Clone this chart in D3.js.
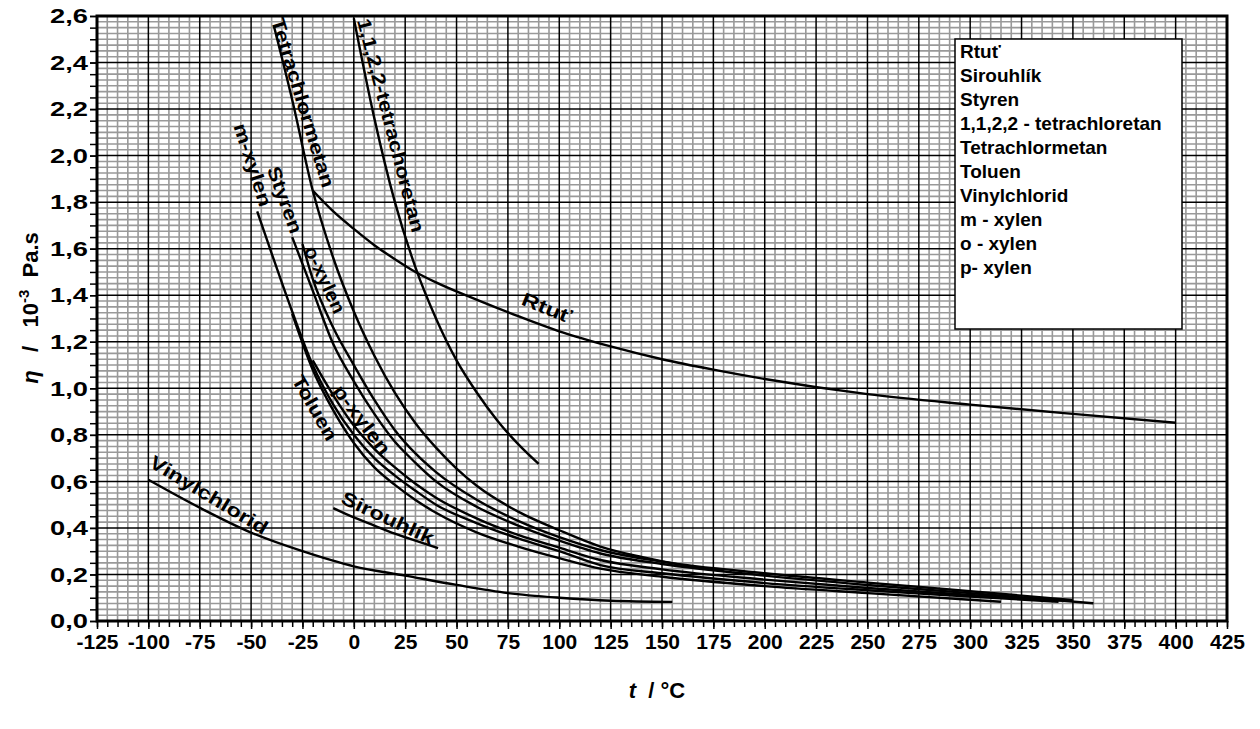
<!DOCTYPE html>
<html>
<head>
<meta charset="utf-8">
<script src="https://cdn.jsdelivr.net/npm/d3@7"></script>
<style>
  body { margin: 0; background: #fff; }
  text { font-family: Arial, "Liberation Sans", sans-serif; font-weight: bold; fill: #000; }
</style>
</head>
<body>
<svg id="chart" width="1260" height="729"></svg>
<script>
// values: [t (°C), viscosity (10^-3 Pa.s)]
const rtut = [[-20,1.85],[-10,1.76],[0,1.685],[10,1.615],[20,1.555],[30,1.50],[40,1.455],[60,1.38],[80,1.31],[100,1.245],[125,1.18],[150,1.125],[175,1.08],[200,1.04],[250,0.975],[300,0.93],[350,0.89],[400,0.852]];
const sirouhlik = [[-10,0.485],[0,0.445],[10,0.41],[20,0.375],[30,0.345],[41,0.313]];
const styren = [[-30,1.65],[-20,1.42],[-10,1.19],[0,1.03],[10,0.89],[20,0.77],[30,0.68],[40,0.60],[60,0.49],[80,0.41],[100,0.345],[120,0.29],[150,0.245],[200,0.195],[250,0.155],[300,0.12],[360,0.076]];
const tetrachloretan = [[0,2.59],[10,2.16],[20,1.80],[30,1.52],[40,1.30],[50,1.12],[60,0.98],[70,0.86],[80,0.76],[90,0.675]];
const tetrachlormetan = [[-39,2.56],[-30,2.24],[-20,1.85],[-10,1.56],[0,1.33],[10,1.14],[20,0.98],[30,0.85],[40,0.745],[50,0.655],[60,0.58],[80,0.47],[100,0.39],[120,0.32],[140,0.275],[160,0.24],[180,0.216]];
const toluen = [[-30,1.32],[-20,1.08],[-10,0.905],[0,0.765],[10,0.66],[20,0.585],[30,0.52],[40,0.465],[60,0.38],[80,0.32],[100,0.27],[120,0.225],[150,0.19],[200,0.15],[250,0.12],[315,0.083]];
const vinylchlorid = [[-100,0.607],[-75,0.487],[-50,0.38],[-25,0.30],[0,0.235],[25,0.195],[50,0.155],[75,0.12],[100,0.10],[125,0.087],[155,0.082]];
const mXylen = [[-47,1.76],[-40,1.58],[-30,1.33],[-20,1.10],[-10,0.93],[0,0.80],[10,0.70],[20,0.625],[30,0.56],[40,0.50],[60,0.42],[80,0.355],[100,0.30],[120,0.24],[150,0.205],[200,0.163],[250,0.132],[300,0.105],[343,0.083]];
const oXylen = [[-25,1.62],[-20,1.47],[-10,1.26],[0,1.10],[10,0.95],[20,0.82],[30,0.72],[40,0.64],[60,0.52],[80,0.43],[100,0.36],[120,0.305],[150,0.255],[200,0.205],[250,0.165],[300,0.128],[350,0.09]];
const pXylen = [[-20,1.12],[-10,0.97],[0,0.84],[10,0.74],[20,0.66],[30,0.59],[40,0.53],[60,0.44],[80,0.37],[100,0.315],[120,0.262],[150,0.222],[200,0.178],[250,0.142],[300,0.112],[345,0.088]];

const legendNames = ["Rtuť", "Sirouhlík", "Styren", "1,1,2,2 - tetrachloretan", "Tetrachlormetan", "Toluen", "Vinylchlorid", "m - xylen", "o - xylen", "p- xylen"];
const seriesList = [rtut, sirouhlik, styren, tetrachloretan, tetrachlormetan, toluen, vinylchlorid, mXylen, oXylen, pXylen];

// in-plot labels: text, anchor point in data units, rotation
const curveLabels = [
  { text: "Tetrachlormetan", t: -24.7, v: 2.228, rot: 73, len: 176 },
  { text: "1,1,2,2-tetrachoretan", t: 18.1, v: 2.13, rot: 75.5, len: 220 },
  { text: "m-xylen", t: -49.1, v: 1.96, rot: 72, len: 86 },
  { text: "Styren", t: -33.5, v: 1.81, rot: 70, len: 70 },
  { text: "o-xylen", t: -14, v: 1.467, rot: 65, len: 72 },
  { text: "Toluen", t: -18.9, v: 0.916, rot: 60, len: 72 },
  { text: "p-xylen", t: 4, v: 0.865, rot: 53, len: 82 },
  { text: "Sirouhlík", t: 16.6, v: 0.443, rot: 25, len: 100 },
  { text: "Vinylchlorid", t: -70.5, v: 0.542, rot: 31, len: 134 },
  { text: "Rtuť", t: 94, v: 1.346, rot: 22, len: 52 }
];

const svg = d3.select("#chart");
const plotL = 97, plotR = 1227, plotT = 16, plotB = 621;

const x = d3.scaleLinear().domain([-125, 425]).range([plotL, plotR]);
const y = d3.scaleLinear().domain([0, 2.6]).range([plotB, plotT]);

const fmtY = (d) => d3.format(".1f")(d).replace(".", ",");

// grid
const grid = svg.append("g");
const xMinor = d3.range(-125, 426, 5).filter((d) => d % 25 !== 0);
const yMinor = d3.range(0, 105, 1).filter((i) => i % 8 !== 0).map((i) => i * 0.025);
const xMajor = d3.range(-125, 426, 25);
const yMajor = d3.range(0, 14, 1).map((i) => i * 0.2);

grid.selectAll(".xm").data(xMinor).join("line")
  .attr("x1", (d) => x(d)).attr("x2", (d) => x(d))
  .attr("y1", plotT).attr("y2", plotB)
  .attr("stroke", "#999").attr("stroke-width", 1.6);
grid.selectAll(".ym").data(yMinor).join("line")
  .attr("x1", plotL).attr("x2", plotR)
  .attr("y1", (d) => y(d)).attr("y2", (d) => y(d))
  .attr("stroke", "#999").attr("stroke-width", 1.6);
grid.selectAll(".xM").data(xMajor).join("line")
  .attr("x1", (d) => x(d)).attr("x2", (d) => x(d))
  .attr("y1", plotT).attr("y2", plotB)
  .attr("stroke", "#000").attr("stroke-width", 1.5);
grid.selectAll(".yM").data(yMajor).join("line")
  .attr("x1", plotL).attr("x2", plotR)
  .attr("y1", (d) => y(d)).attr("y2", (d) => y(d))
  .attr("stroke", "#000").attr("stroke-width", 1.5);

// axes
const xAxisMinor = d3.axisBottom(x).tickValues(d3.range(-125, 426, 5)).tickSize(6).tickFormat("");
const xAxis = d3.axisBottom(x).tickValues(xMajor).tickSize(8).tickPadding(5).tickFormat((d) => String(d));
const yAxisMinor = d3.axisLeft(y).tickValues(d3.range(0, 53, 1).map((i) => i * 0.05)).tickSize(7).tickFormat("");
const yAxis = d3.axisLeft(y).tickValues(yMajor).tickSize(7).tickPadding(9).tickFormat(fmtY);

function styleAxis(g) {
  g.select(".domain").remove();
  g.selectAll(".tick line").attr("stroke", "#000").attr("stroke-width", 1.5);
  g.selectAll(".tick text").style("font-size", "21px").style("font-weight", "bold")
    .style("font-family", "Arial, 'Liberation Sans', sans-serif").attr("fill", "#000");
}
svg.append("g").attr("transform", `translate(0,${plotB})`).call(xAxisMinor).call(styleAxis);
svg.append("g").attr("transform", `translate(0,${plotB})`).call(xAxis).call(styleAxis);
svg.append("g").attr("transform", `translate(${plotL},0)`).call(yAxisMinor).call(styleAxis);
const yg = svg.append("g").attr("transform", `translate(${plotL},0)`).call(yAxis).call(styleAxis);
// the y labels in the picture are drawn wider than plain Arial
yg.selectAll(".tick text")
  .attr("x", null)
  .attr("transform", "translate(-9,0) scale(1.3,1)");

// plot border
svg.append("rect")
  .attr("x", plotL).attr("y", plotT)
  .attr("width", plotR - plotL).attr("height", plotB - plotT)
  .attr("fill", "none").attr("stroke", "#000").attr("stroke-width", 3);

// curves
const line = d3.line()
  .x((d) => x(d[0]))
  .y((d) => y(d[1]))
  .curve(d3.curveMonotoneX);

svg.append("g").selectAll("path").data(seriesList).join("path")
  .attr("d", line)
  .attr("fill", "none")
  .attr("stroke", "#000")
  .attr("stroke-width", 2.4);

// curve labels
svg.append("g").selectAll("text").data(curveLabels).join("text")
  .attr("transform", (d) => `translate(${x(d.t)},${y(d.v)}) rotate(${d.rot})`)
  .attr("text-anchor", "middle")
  .attr("dy", "0.35em")
  .attr("textLength", (d) => d.len)
  .attr("lengthAdjust", "spacingAndGlyphs")
  .style("font-size", "19px")
  .text((d) => d.text);

// legend
const lg = svg.append("g").attr("transform", "translate(955,39)");
lg.append("rect")
  .attr("width", 227).attr("height", 290)
  .attr("fill", "#fff").attr("stroke", "#000").attr("stroke-width", 1.5);
lg.selectAll("text").data(legendNames).join("text")
  .attr("x", 5)
  .attr("y", (d, i) => 19 + i * 24)
  .style("font-size", "19px")
  .text((d) => d);

// axis titles
svg.append("text")
  .attr("x", 657).attr("y", 698)
  .attr("text-anchor", "middle")
  .style("font-size", "22px")
  .style("white-space", "pre")
  .call((t) => {
    t.append("tspan").style("font-style", "italic").text("t");
    t.append("tspan").text("  / °C");
  });

svg.append("text")
  .attr("transform", "translate(38,308) rotate(-90)")
  .attr("text-anchor", "middle")
  .style("font-size", "22px")
  .style("white-space", "pre")
  .call((t) => {
    t.append("tspan").style("font-style", "italic").text("η");
    t.append("tspan").text("   /   10");
    t.append("tspan").attr("dy", -9).style("font-size", "15px").text("-3");
    t.append("tspan").attr("dy", 9).text("  Pa.s");
  });
</script>
</body>
</html>
